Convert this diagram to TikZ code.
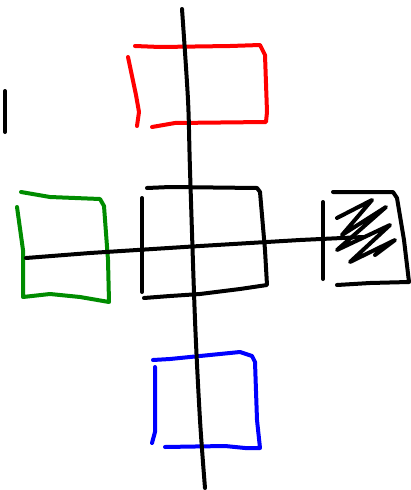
\documentclass[tikz,border=0pt]{standalone}
\tikzset{pen/.style={line width=4pt,line cap=round,line join=round}}
\definecolor{sketchgreen}{RGB}{0,140,0}
\begin{document}
\begin{tikzpicture}[x=1pt,y=-1pt]
	\useasboundingbox (0,0) rectangle (410,490);
			\draw[pen] (5,91)--(5,132);
			\draw[pen,red] (135,46)--(160,47)--(230,46)--(260,45)--(265,55)--(267,112)--(266,122)--(175,123)--(152,127);
			\draw[pen,red] (128,57)--(136,95)--(139,112)--(137,126);
			\draw[pen,sketchgreen] (21,192)--(50,197)--(100,199)--(104,206)--(108,260)--(109,302)--(80,297)--(50,294)--(23,297)--(23,250)--(17,207);
			\draw[pen] (147,188)--(170,187)--(257,188)--(260,192)--(265,250)--(267,285)--(240,289)--(200,294)--(170,296)--(144,298);
			\draw[pen] (142,198)--(142,292);
			\draw[pen] (323,202)--(323,279);
			\draw[pen] (333,192)--(393,192)--(397,198)--(404,240)--(409,282)--(370,283)--(337,285);
			\draw[pen] (337,218)--(372,200)--(342,235)--(386,207)--(337,250)--(390,225)--(350,262)--(395,240)--(375,255);
			\draw[pen] (26,258)--(90,253)--(200,246)--(300,240)--(363,237);
			\draw[pen,blue] (153,360)--(170,359)--(240,352)--(252,356)--(255,362)--(257,420)--(260,448)--(245,448)--(225,446)--(165,447);
			\draw[pen,blue] (155,367)--(155,432)--(152,443);
			\draw[pen] plot[smooth] coordinates {(182,9) (188,100) (190,170) (195,320) (200,420) (205,488)};
	\end{tikzpicture}
\end{document}
